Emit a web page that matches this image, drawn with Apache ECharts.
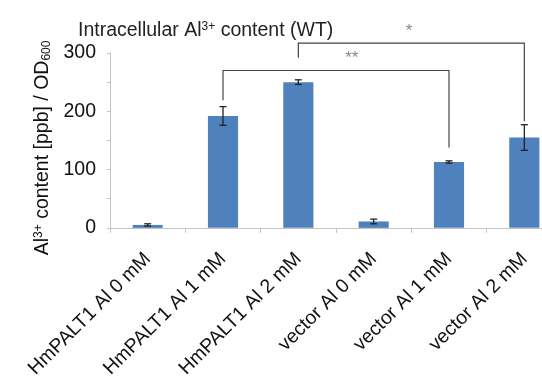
<!DOCTYPE html>
<html><head><meta charset="utf-8">
<script src="https://cdn.jsdelivr.net/npm/echarts@6/dist/echarts.min.js"></script>
<style>html,body{margin:0;padding:0;background:#fff;overflow:hidden;width:542px;height:381px}#c{width:562px;height:381px}</style>
</head><body><div id="c"></div>
<script>
const categories = ['HmPALT1 Al 0 mM','HmPALT1 Al 1 mM','HmPALT1 Al 2 mM','vector Al 0 mM','vector Al 1 mM','vector Al 2 mM'];
const values = [5, 192, 250, 11, 113, 155];
const errors = [2, 16, 4, 4, 2, 22];
const yTicks = [0, 100, 200, 300];
// significance brackets: [from index, to index, top value, left foot value, right foot value, label]
const brackets = [
  [1, 4, 270, 219, 138, '**'],
  [2, 5, 317, 292, 183, '*']
];
// where each bracket's label sits along the x axis (category index units)
const bracketLabelAt = [2.71, 3.47];

const chart = echarts.init(document.getElementById('c'));
const font = 'Liberation Sans, Arial, sans-serif';
chart.setOption({
  animation: false,
  title: {
    text: 'Intracellular Al{sup|3+} content (WT)',
    left: 73, top: 16,
    textStyle: {fontFamily: font, fontSize: 19.5, fontWeight: 'normal', color: '#222',
      rich: {sup: {fontSize: 12, verticalAlign: 'top', padding: [0,0,8,0], fontFamily: font, color: '#222'}}}
  },
  grid: {left: 110, right: 0, top: 53, bottom: 151},
  xAxis: {
    type: 'category', data: categories,
    axisLine: {lineStyle: {color: '#c4c4c4'}},
    axisTick: {show: true, length: 5, lineStyle: {color: '#c4c4c4'}},
    axisLabel: {rotate: 45, fontFamily: font, fontSize: 19.5, color: '#111', margin: 28, interval: 0}
  },
  yAxis: {
    type: 'value', min: 0, max: 300, interval: 50,
    splitLine: {show: false},
    axisLine: {show: true, lineStyle: {color: '#c4c4c4'}},
    axisTick: {show: true, length: 3, lineStyle: {color: '#c4c4c4'}},
    axisLabel: {fontFamily: font, fontSize: 19.5, color: '#111', margin: 14,
      formatter: v => yTicks.indexOf(v) >= 0 ? String(v) : ''},
    name: 'Al{sup|3+} content [ppb] / OD{sub|600}',
    nameLocation: 'middle', nameGap: 56, nameRotate: 90,
    nameTextStyle: {fontFamily: font, fontSize: 19.5, color: '#111', padding: [0, 15, 0, 0],
      rich: {sup: {fontSize: 12, verticalAlign: 'top', padding: [0,0,8,0], fontFamily: font, color: '#111'},
             sub: {fontSize: 12, verticalAlign: 'bottom', padding: [8,0,0,0], fontFamily: font, color: '#111'}}}
  },
  series: [
    {type: 'bar', data: values, barWidth: '40%', itemStyle: {color: '#4F81BD'}},
    {type: 'custom', data: values.map((v,i) => [i, v, errors[i]]), z: 5,
     renderItem: function(params, api) {
       const x = api.value(0), v = api.value(1), e = api.value(2);
       const hi = api.coord([x, v + e]), lo = api.coord([x, v - e]);
       const w = 3.5;
       const st = {stroke: '#222', lineWidth: 1.3};
       return {type: 'group', children: [
         {type: 'line', shape: {x1: hi[0], y1: hi[1], x2: lo[0], y2: lo[1]}, style: st},
         {type: 'line', shape: {x1: hi[0]-w, y1: hi[1], x2: hi[0]+w, y2: hi[1]}, style: st},
         {type: 'line', shape: {x1: lo[0]-w, y1: lo[1], x2: lo[0]+w, y2: lo[1]}, style: st}
       ]};
     }},
    {type: 'custom', data: brackets, z: 6, clip: false,
     renderItem: function(params, api) {
       const b = brackets[params.dataIndex];
       const lt = api.coord([b[0], b[2]]), lb = api.coord([b[0], b[3]]);
       const rt = api.coord([b[1], b[2]]), rb = api.coord([b[1], b[4]]);
       const t = bracketLabelAt[params.dataIndex];
       const tx = lt[0] + (rt[0] - lt[0]) * (t - b[0]) / (b[1] - b[0]);
       const st = {stroke: '#444', lineWidth: 1.2, fill: null};
       return {type: 'group', children: [
         {type: 'polyline', shape: {points: [[lb[0], lb[1]], [lt[0], lt[1]], [rt[0], rt[1]], [rb[0], rb[1]]]}, style: st},
         {type: 'text', style: {text: b[5], x: tx, y: lt[1] - 12, align: 'center', verticalAlign: 'middle',
           fontSize: 17, fontFamily: font, fill: '#888'}}
       ]};
     }}
  ]
});
</script></body></html>
